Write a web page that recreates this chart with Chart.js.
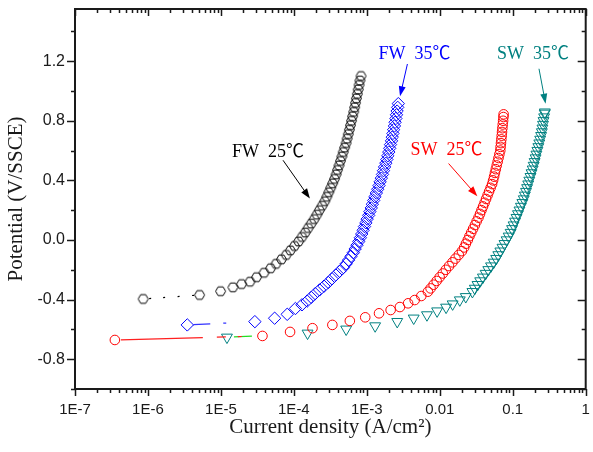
<!DOCTYPE html>
<html>
<head>
<meta charset="utf-8">
<script src="https://cdn.jsdelivr.net/npm/chart.js@4/dist/chart.umd.min.js"></script>
<style>
  html, body { margin: 0; padding: 0; background: #fff; }
  #wrap { width: 593px; height: 452px; }
</style>
</head>
<body>
<div id="wrap"><canvas id="polChart"></canvas></div>
<script>
// tick labels
const xTickValues = [1e-7, 1e-6, 1e-5, 1e-4, 1e-3, 1e-2, 1e-1, 1];
const xTickLabels = ['1E-7', '1E-6', '1E-5', '1E-4', '1E-3', '0.01', '0.1', '1'];
const yTickValues = [-0.8, -0.4, 0, 0.4, 0.8, 1.2];
const yTickLabels = ['-0.8', '-0.4', '0.0', '0.4', '0.8', '1.2'];

// FW 25C (hexagons)
const fw25Current = [8.6e-7, 5.1e-6, 9.9e-6, 1.46e-5, 1.92e-5, 2.5e-5, 3.08e-5, 3.90e-5, 4.80e-5, 5.70e-5,
  6.76e-5, 7.85e-5, 8.95e-5, 1.02e-4, 1.16e-4, 1.29e-4, 1.43e-4, 1.57e-4, 1.73e-4, 1.90e-4,
  2.07e-4, 2.24e-4, 2.44e-4, 2.65e-4, 2.83e-4, 3.01e-4, 3.20e-4, 3.40e-4, 3.61e-4, 3.79e-4,
  3.97e-4, 4.16e-4, 4.35e-4, 4.55e-4, 4.75e-4, 4.97e-4, 5.20e-4, 5.38e-4, 5.57e-4, 5.77e-4,
  5.97e-4, 6.17e-4, 6.38e-4, 6.61e-4, 6.81e-4, 7.00e-4, 7.20e-4, 7.41e-4, 7.62e-4, 7.83e-4,
  8.05e-4, 8.32e-4];
const fw25Potential = [-0.396, -0.369, -0.344, -0.318, -0.296, -0.280, -0.25, -0.22, -0.19, -0.16,
  -0.13, -0.10, -0.07, -0.04, -0.01, 0.02, 0.05, 0.08, 0.11, 0.14,
  0.17, 0.20, 0.23, 0.26, 0.29, 0.32, 0.35, 0.38, 0.41, 0.44,
  0.47, 0.50, 0.53, 0.56, 0.59, 0.62, 0.65, 0.68, 0.71, 0.74,
  0.77, 0.80, 0.83, 0.86, 0.89, 0.92, 0.95, 0.98, 1.01, 1.04,
  1.07, 1.10];

// FW 35C (diamonds)
const fw35Current = [3.46e-6, 2.92e-5, 5.45e-5, 8.1e-5, 1.05e-4, 1.29e-4, 1.52e-4, 1.73e-4, 1.96e-4, 2.25e-4,
  2.59e-4, 2.96e-4, 3.33e-4, 3.76e-4, 4.24e-4, 4.78e-4, 5.21e-4, 5.62e-4, 6.07e-4, 6.53e-4,
  6.92e-4, 7.33e-4, 7.76e-4, 8.15e-4, 8.51e-4, 8.89e-4, 9.29e-4, 9.70e-4, 1.01e-3, 1.06e-3,
  1.10e-3, 1.15e-3, 1.19e-3, 1.24e-3, 1.29e-3, 1.35e-3, 1.41e-3, 1.47e-3, 1.52e-3, 1.58e-3,
  1.64e-3, 1.69e-3, 1.75e-3, 1.82e-3, 1.88e-3, 1.94e-3, 2.00e-3, 2.06e-3, 2.11e-3, 2.18e-3,
  2.23e-3, 2.28e-3, 2.33e-3, 2.39e-3, 2.44e-3, 2.50e-3, 2.55e-3, 2.60e-3, 2.65e-3, 2.70e-3];
const fw35Potential = [-0.570, -0.548, -0.525, -0.499, -0.46, -0.435, -0.41, -0.385, -0.36, -0.335,
  -0.31, -0.285, -0.26, -0.235, -0.21, -0.185, -0.16, -0.135, -0.11, -0.085,
  -0.06, -0.035, -0.01, 0.015, 0.04, 0.065, 0.09, 0.115, 0.14, 0.165,
  0.19, 0.215, 0.24, 0.265, 0.29, 0.315, 0.34, 0.365, 0.39, 0.415,
  0.44, 0.465, 0.49, 0.515, 0.54, 0.565, 0.59, 0.615, 0.64, 0.665,
  0.69, 0.715, 0.74, 0.765, 0.79, 0.815, 0.84, 0.865, 0.89, 0.915];

// SW 25C (circles)
const sw25Current = [3.52e-7, 3.71e-5, 8.87e-5, 1.80e-4, 3.37e-4, 5.85e-4, 9.51e-4, 1.47e-3, 2.12e-3, 2.84e-3,
  3.68e-3, 4.53e-3, 5.58e-3, 6.87e-3, 7.48e-3, 8.22e-3, 9.06e-3, 9.96e-3, 1.10e-2, 1.21e-2,
  1.34e-2, 1.49e-2, 1.64e-2, 1.82e-2, 2.01e-2, 2.16e-2, 2.28e-2, 2.42e-2, 2.55e-2, 2.70e-2,
  2.86e-2, 3.03e-2, 3.20e-2, 3.39e-2, 3.56e-2, 3.73e-2, 3.92e-2, 4.11e-2, 4.31e-2, 4.52e-2,
  4.74e-2, 4.97e-2, 5.21e-2, 5.38e-2, 5.55e-2, 5.70e-2, 5.86e-2, 6.03e-2, 6.21e-2, 6.38e-2,
  6.56e-2, 6.75e-2, 6.82e-2, 6.90e-2, 6.98e-2, 7.06e-2, 7.13e-2, 7.21e-2, 7.29e-2, 7.38e-2,
  7.45e-2, 7.50e-2];
const sw25Potential = [-0.671, -0.644, -0.617, -0.592, -0.570, -0.543, -0.519, -0.492, -0.470, -0.450,
  -0.425, -0.403, -0.376, -0.347, -0.325, -0.30, -0.275, -0.25, -0.225, -0.20,
  -0.175, -0.15, -0.125, -0.10, -0.075, -0.05, -0.025, 0.0, 0.025, 0.05,
  0.075, 0.10, 0.125, 0.15, 0.175, 0.20, 0.225, 0.25, 0.275, 0.30,
  0.325, 0.35, 0.375, 0.40, 0.425, 0.45, 0.475, 0.50, 0.525, 0.55,
  0.575, 0.60, 0.625, 0.65, 0.675, 0.70, 0.725, 0.75, 0.775, 0.80,
  0.825, 0.843];

// SW 35C (down triangles)
const sw35Current = [1.21e-5, 1.54e-4, 5.21e-4, 1.30e-3, 2.61e-3, 4.39e-3, 6.67e-3, 9.19e-3, 1.22e-2, 1.50e-2,
  1.88e-2, 2.27e-2, 2.80e-2, 3.02e-2, 3.29e-2, 3.58e-2, 3.90e-2, 4.25e-2, 4.62e-2, 5.04e-2,
  5.48e-2, 5.93e-2, 6.34e-2, 6.76e-2, 7.23e-2, 7.71e-2, 8.24e-2, 8.79e-2, 9.35e-2, 9.79e-2,
  0.1026, 0.1076, 0.1127, 0.1180, 0.1236, 0.1294, 0.1355, 0.1416, 0.1466, 0.1521,
  0.1574, 0.1630, 0.1687, 0.1750, 0.1811, 0.1875, 0.1936, 0.1995, 0.2056, 0.2113,
  0.2178, 0.2244, 0.2312, 0.2377, 0.2449, 0.2506, 0.2553, 0.2600, 0.2642, 0.2692,
  0.2742, 0.2754];
const sw35Potential = [-0.653, -0.626, -0.599, -0.577, -0.548, -0.525, -0.503, -0.477, -0.452, -0.430,
  -0.403, -0.381, -0.347, -0.325, -0.30, -0.275, -0.25, -0.225, -0.20, -0.175,
  -0.15, -0.125, -0.10, -0.075, -0.05, -0.025, 0.0, 0.025, 0.05, 0.075,
  0.10, 0.125, 0.15, 0.175, 0.20, 0.225, 0.25, 0.275, 0.30, 0.325,
  0.35, 0.375, 0.40, 0.425, 0.45, 0.475, 0.50, 0.525, 0.55, 0.575,
  0.60, 0.625, 0.65, 0.675, 0.70, 0.725, 0.75, 0.775, 0.80, 0.825,
  0.85, 0.858];

// labels with arrows, placed in data units (current, potential)
const notes = [
  {text: 'FW  25\u2103', color: '#000000', at: [4.43e-5, 0.589], from: [7.1e-5, 0.535], to: [1.66e-4, 0.278]},
  {text: 'FW  35\u2103', color: '#0000ff', at: [4.49e-3, 1.245], from: [3.6e-3, 1.181], to: [2.85e-3, 0.964]},
  {text: 'SW  25\u2103', color: '#ff0000', at: [1.24e-2, 0.602], from: [1.32e-2, 0.513], to: [3.27e-2, 0.294]},
  {text: 'SW  35\u2103', color: '#008080', at: [0.19, 1.245], from: [0.229, 1.149], to: [0.282, 0.915]}
];

function hexagon(color, r) {
  const c = document.createElement('canvas');
  const s = Math.ceil(r * 2 + 3);
  c.width = c.height = s;
  const g = c.getContext('2d');
  g.strokeStyle = color;
  g.lineWidth = 1;
  g.beginPath();
  for (let k = 0; k < 6; k++) {
    const a = k * Math.PI / 3;
    const px = s / 2 + r * Math.cos(a), py = s / 2 + r * Math.sin(a);
    if (k) g.lineTo(px, py); else g.moveTo(px, py);
  }
  g.closePath();
  g.stroke();
  return c;
}

function pts(cur, pot) {
  return cur.map((c, i) => ({x: c, y: pot[i]}));
}

// only the first joint of each curve keeps a (broken) line
function firstSeg(color, dash) {
  return {
    borderColor: ctx => ctx.p0DataIndex === 0 ? color : 'rgba(0,0,0,0)',
    borderDash: ctx => ctx.p0DataIndex === 0 ? dash : undefined
  };
}

const none = 'rgba(0,0,0,0)';

const frame = {
  id: 'frame',
  afterDatasetsDraw(chart) {
    const {ctx, chartArea: a, scales: {x, y}} = chart;
    ctx.save();
    ctx.strokeStyle = '#1a1a1a';
    ctx.lineWidth = 1.5;
    ctx.beginPath();
    // x ticks: outward at bottom, inward at top
    xTickValues.forEach((v, i) => {
      for (let m = 1; m < 10; m++) {
        const val = v * m;
        if (val > 1 || (m > 1 && i === xTickValues.length - 1)) break;
        const px = Math.round(x.getPixelForValue(val)) + 0.5;
        const len = m === 1 ? 7 : 4;
        ctx.moveTo(px, a.bottom); ctx.lineTo(px, a.bottom + len);
        ctx.moveTo(px, a.top); ctx.lineTo(px, a.top + len);
      }
    });
    // y ticks every 0.2: outward at left, inward at right
    [-1.0, -0.8, -0.6, -0.4, -0.2, 0, 0.2, 0.4, 0.6, 0.8, 1.0, 1.2, 1.4].forEach(v => {
      const py = Math.round(y.getPixelForValue(v)) + 0.5;
      const major = yTickValues.some(t => Math.abs(t - v) < 1e-6);
      const len = major ? 8 : 4;
      ctx.moveTo(a.left, py); ctx.lineTo(a.left - len, py);
      ctx.moveTo(a.right, py); ctx.lineTo(a.right - len, py);
    });
    ctx.stroke();
    ctx.lineWidth = 2;
    ctx.strokeRect(a.left, a.top, a.right - a.left, a.bottom - a.top);

    // annotations
    ctx.font = "18px 'Liberation Serif', 'Noto Sans CJK KR', serif";
    ctx.textAlign = 'center';
    ctx.textBaseline = 'middle';
    notes.forEach(n => {
      ctx.fillStyle = n.color;
      ctx.strokeStyle = n.color;
      ctx.fillText(n.text, x.getPixelForValue(n.at[0]), y.getPixelForValue(n.at[1]));
      const x0 = x.getPixelForValue(n.from[0]), y0 = y.getPixelForValue(n.from[1]);
      const x1 = x.getPixelForValue(n.to[0]), y1 = y.getPixelForValue(n.to[1]);
      const ang = Math.atan2(y1 - y0, x1 - x0);
      const hl = 10, hw = 3.5;
      ctx.lineWidth = 1;
      ctx.beginPath();
      ctx.moveTo(x0, y0);
      ctx.lineTo(x1 - Math.cos(ang) * hl * 0.8, y1 - Math.sin(ang) * hl * 0.8);
      ctx.stroke();
      ctx.beginPath();
      ctx.moveTo(x1, y1);
      ctx.lineTo(x1 - Math.cos(ang) * hl - Math.sin(ang) * hw, y1 - Math.sin(ang) * hl + Math.cos(ang) * hw);
      ctx.lineTo(x1 - Math.cos(ang) * hl + Math.sin(ang) * hw, y1 - Math.sin(ang) * hl - Math.cos(ang) * hw);
      ctx.closePath();
      ctx.fill();
    });
    ctx.restore();
  }
};

const ctx = document.getElementById('polChart').getContext('2d');
const myChart = new Chart(ctx, {
  type: 'scatter',
  data: {
    datasets: [
      {
        data: pts(fw25Current, fw25Potential),
        showLine: true,
        borderWidth: 1.2,
        pointStyle: hexagon('#000000', 5),
        pointRadius: 5,
        pointBorderColor: '#000000',
        pointBackgroundColor: none,
        segment: firstSeg('#000000', [0, 6, 2, 12, 2, 12.5, 2, 12.5, 2, 200])
      },
      {
        data: pts(fw35Current, fw35Potential),
        showLine: true,
        borderWidth: 1.2,
        pointStyle: 'rectRot',
        pointRadius: 6.2,
        pointBorderWidth: 1,
        pointBorderColor: '#0000ff',
        pointBackgroundColor: none,
        segment: firstSeg('#3333ff', [0, 6, 17, 13, 3, 200])
      },
      {
        data: pts(sw25Current, sw25Potential),
        showLine: true,
        borderWidth: 1.2,
        pointStyle: 'circle',
        pointRadius: 4.8,
        pointBorderWidth: 1,
        pointBorderColor: '#ff0000',
        pointBackgroundColor: none,
        segment: firstSeg('#ff2020', [0, 6, 82, 14, 9, 12, 4, 200])
      },
      {
        data: pts(sw35Current, sw35Potential),
        showLine: true,
        borderWidth: 1.2,
        pointStyle: 'triangle',
        pointRotation: 180,
        pointRadius: 6.3,
        pointBorderWidth: 1,
        pointBorderColor: '#008080',
        pointBackgroundColor: none,
        segment: firstSeg('#22dd22', [0, 7, 18, 200])
      }
    ]
  },
  options: {
    responsive: true,
    maintainAspectRatio: false,
    animation: false,
    layout: {padding: {top: 9, right: 2, left: 0, bottom: 0}},
    plugins: {
      legend: {display: false},
      tooltip: {enabled: false}
    },
    elements: {line: {tension: 0}},
    scales: {
      x: {
        type: 'logarithmic',
        min: 1e-7,
        max: 1,
        border: {display: false},
        grid: {display: false, drawTicks: false},
        afterBuildTicks: scale => { scale.ticks = xTickValues.map(v => ({value: v, major: true})); },
        afterFit: scale => { scale.height = 63; scale.paddingLeft = 0; scale.paddingRight = 0; },
        ticks: {
          autoSkip: false,
          maxRotation: 0,
          padding: 12,
          color: '#1a1a1a',
          font: {family: "'Liberation Sans', Arial, sans-serif", size: 15},
          callback: (v, i) => xTickLabels[i]
        },
        title: {
          display: true,
          text: 'Current density (A/cm\u00b2)',
          color: '#1a1a1a',
          font: {family: "'Liberation Serif', serif", size: 21},
          padding: {top: 0, bottom: 12}
        }
      },
      y: {
        type: 'linear',
        min: -1.0,
        max: 1.55,
        border: {display: false},
        grid: {display: false, drawTicks: false},
        afterBuildTicks: scale => { scale.ticks = yTickValues.map(v => ({value: v})); },
        afterFit: scale => { scale.width = 75; scale.paddingTop = 0; scale.paddingBottom = 0; },
        ticks: {
          padding: 10,
          color: '#1a1a1a',
          font: {family: "'Liberation Sans', Arial, sans-serif", size: 16},
          callback: (v, i) => yTickLabels[i]
        },
        title: {
          display: true,
          text: 'Potential (V/SSCE)',
          color: '#1a1a1a',
          font: {family: "'Liberation Serif', serif", size: 21},
          padding: {top: 4, bottom: 0}
        }
      }
    }
  },
  plugins: [frame]
});
</script>
</body>
</html>
